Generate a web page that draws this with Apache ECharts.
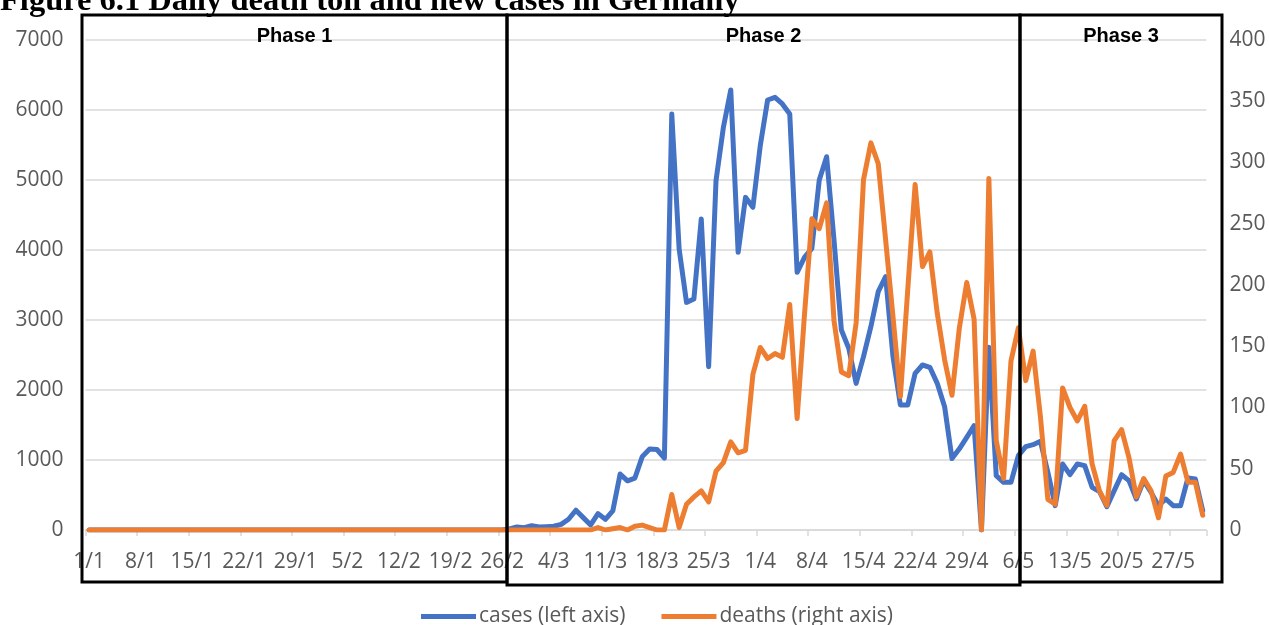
<!DOCTYPE html>
<html><head><meta charset="utf-8">
<script src="https://cdn.jsdelivr.net/npm/echarts@6/dist/echarts.min.js"></script>
<style>html,body{margin:0;padding:0;background:#fff}#c{width:1269px;height:625px}</style>
</head><body><div id="c"></div>
<script>
// ---- data ----
const monthDays = [31, 29, 31, 30, 31]; // Jan..May 2020
const categories = [];
monthDays.forEach((n, m) => { for (let d = 1; d <= n; d++) categories.push(d + '/' + (m + 1)); });

const cases = [
  0,0,0,0,0,0,0,0,0,0,
  0,0,0,0,0,0,0,0,0,0,
  0,0,0,0,0,0,0,0,0,0,
  0,0,0,0,0,0,0,0,0,0,
  0,0,0,0,0,0,0,0,0,0,
  0,0,0,0,0,0,0,
  15,43,33,62,43,48,53,81,153,282,
  177,72,234,153,273,799,703,742,1048,1158,
  1150,1027,5943,4014,3252,3300,4443,2333,4990,5752,
  6286,3967,4752,4610,5490,6143,6181,6086,5943,3681,
  3895,4024,5000,5333,4143,2857,2595,2095,2476,2905,
  3405,3619,2476,1786,1786,2238,2357,2324,2095,1762,
  1020,1160,1324,1490,0,2610,776,681,681,1062,
  1190,1219,1267,824,348,943,790,943,919,610,
  550,333,562,790,705,443,705,538,348,443,
  348,348,743,729,276
];
const deaths = [
  0,0,0,0,0,0,0,0,0,0,
  0,0,0,0,0,0,0,0,0,0,
  0,0,0,0,0,0,0,0,0,0,
  0,0,0,0,0,0,0,0,0,0,
  0,0,0,0,0,0,0,0,0,0,
  0,0,0,0,0,0,0,0,0,0,
  0,0,0,0,0,0,0,0,0,
  2,0,1,2,0,3,4,2,0,0,
  29,2,21,27,32,23,48,55,72,63,
  65,127,149,140,144,141,184,91,176,254,
  246,267,171,129,126,169,286,316,299,237,
  174,109,196,282,215,227,177,139,110,165,
  202,172,0,287,73,42,138,165,122,146,
  92,25,21,116,100,89,101,54,32,20,
  73,82,59,27,42,32,10,44,47,62,
  39,39,12
];
const phaseLabels = ['Phase 1', 'Phase 2', 'Phase 3'];
const seriesNames = ['cases (left axis)', 'deaths (right axis)'];
const titleText = 'Figure 6.1 Daily death toll and new cases in Germany';

// ---- layout ----
const boxes = [[82, 15, 507, 582], [507, 15, 1020, 585], [1020, 15, 1222, 582]];
const FONT = 'Open Sans';
const FS = 21;
const grey = '#595959';
const gridGrey = '#d9d9d9';

const chart = echarts.init(document.getElementById('c'), null, {renderer: 'canvas'});
const graphics = [];
boxes.forEach((b, k) => {
  graphics.push({type: 'rect', shape: {x: b[0], y: b[1], width: b[2] - b[0], height: b[3] - b[1]},
    style: {fill: 'none', stroke: '#000', lineWidth: 3}, z: 100});
  graphics.push({type: 'text', x: (b[0] + b[2]) / 2, y: 36,
    style: {text: phaseLabels[k], font: 'bold 20px "Liberation Sans"', fill: '#000', align: 'center', verticalAlign: 'middle'}, z: 100});
});
graphics.push({type: 'text', x: 0, y: 1.5,
  style: {text: titleText, font: 'bold 32.5px "Liberation Serif"', fill: '#000', align: 'left', verticalAlign: 'middle'}, z: 100});

const plain = v => String(v);

chart.setOption({
  animation: false,
  grid: {left: 85.5, right: 62.6, top: 40, bottom: 95, containLabel: false},
  legend: {
    left: 416, top: 601, itemWidth: 55, itemHeight: 5, itemGap: 36, icon: 'rect',
    textStyle: {color: grey, fontSize: FS, fontFamily: FONT, padding: [0, 0, 0, -2]},
    data: seriesNames
  },
  xAxis: {
    type: 'category', data: categories, boundaryGap: true,
    axisLine: {lineStyle: {color: gridGrey, width: 1.5}},
    axisTick: {show: true, interval: 6, length: 6, lineStyle: {color: gridGrey, width: 1.5}},
    axisLabel: {interval: 6, color: grey, fontSize: FS, fontFamily: FONT, margin: 22}
  },
  yAxis: [
    {type: 'value', min: 0, max: 7000, interval: 1000, position: 'left',
      axisLine: {show: false}, axisTick: {show: false},
      axisLabel: {color: grey, fontSize: FS, fontFamily: FONT, margin: 22, formatter: plain},
      splitLine: {lineStyle: {color: gridGrey, width: 1.5}}},
    {type: 'value', min: 0, max: 400, interval: 50, position: 'right',
      axisLine: {show: false}, axisTick: {show: false},
      axisLabel: {color: grey, fontSize: FS, fontFamily: FONT, margin: 23, formatter: plain},
      splitLine: {show: false}}
  ],
  series: [
    {name: seriesNames[0], type: 'line', data: cases, yAxisIndex: 0, symbol: 'none',
      lineStyle: {color: '#4472C4', width: 5, join: 'round', cap: 'round'}, itemStyle: {color: '#4472C4'}},
    {name: seriesNames[1], type: 'line', data: deaths, yAxisIndex: 1, symbol: 'none',
      lineStyle: {color: '#ED7D31', width: 5, join: 'round', cap: 'round'}, itemStyle: {color: '#ED7D31'}}
  ],
  graphic: graphics
});
</script></body></html>
